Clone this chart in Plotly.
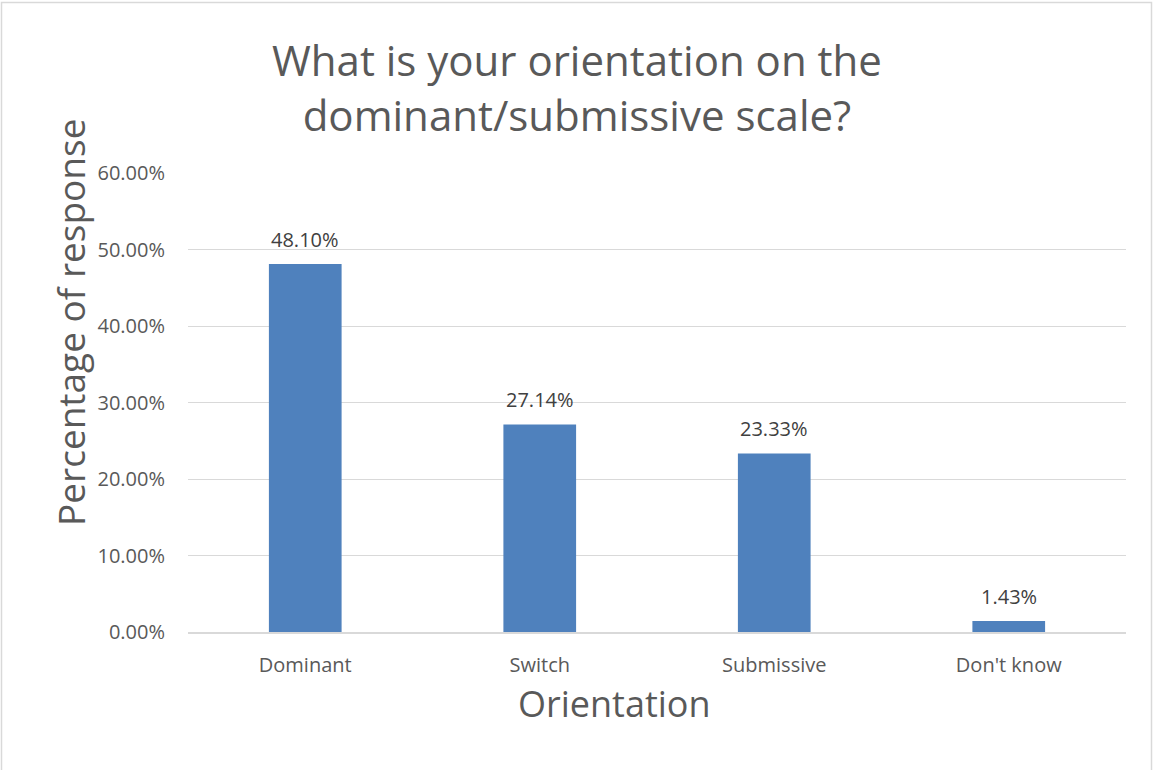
import plotly.graph_objects as go

categories = ["Dominant", "Switch", "Submissive", "Don't know"]
values = [0.4810, 0.2714, 0.2333, 0.0143]
tick_vals = [0, 0.1, 0.2, 0.3, 0.4, 0.5, 0.6]
tick_text = ["0.00%", "10.00%", "20.00%", "30.00%", "40.00%", "50.00%", "60.00%"]

W, H = 1153, 770
L, R, T, B = 188, 1126, 173, 632
pw, ph = R - L, B - T
def px(x): return (x - L) / pw
def py(y): return (B - y) / ph

FONT = "Open Sans"
fig = go.Figure(go.Bar(
    x=categories, y=values,
    marker=dict(color="#4F81BD", line=dict(width=0)),
    hoverinfo="x+y",
))
labels = [dict(x=c, y=v, xref="x", yref="y", text=f"{v*100:.2f}%", showarrow=False,
               xanchor="center", yanchor="middle", yshift=25,
               font=dict(family=FONT, size=20, color="#404040"))
          for c, v in zip(categories, values)]
fig.update_layout(
    width=W, height=H,
    margin=dict(l=L, r=W - R, t=T, b=H - B, pad=0),
    paper_bgcolor="white", plot_bgcolor="white",
    bargap=0.69, showlegend=False,
    font=dict(family=FONT, color="#595959"),
    xaxis=dict(showgrid=False, showline=True, linecolor="#D9D9D9", linewidth=1.5,
               ticks="", ticklabelstandoff=14, tickfont=dict(size=20, color="#595959")),
    yaxis=dict(range=[0, 0.6], tickvals=tick_vals, ticktext=tick_text,
               showgrid=True, gridcolor="#D9D9D9", gridwidth=1, zeroline=False,
               showline=False, ticks="", ticklabelstandoff=22,
               tickfont=dict(size=20, color="#595959")),
    shapes=[dict(type="rect", xref="paper", yref="paper",
                 x0=px(1.5), x1=px(1151.5), y0=py(772), y1=py(2.5),
                 line=dict(color="#D9D9D9", width=1.5), fillcolor="rgba(0,0,0,0)", layer="below")],
    annotations=labels + [
        dict(text="What is your orientation on the<br>dominant/submissive scale?",
             xref="paper", yref="paper", x=px(577), y=py(87), showarrow=False,
             xanchor="center", yanchor="middle",
             font=dict(family=FONT, size=42, color="#595959")),
        dict(text="Percentage of response", xref="paper", yref="paper",
             x=px(70), y=py(323), textangle=-90, showarrow=False,
             xanchor="center", yanchor="middle",
             font=dict(family=FONT, size=37, color="#595959")),
        dict(text="Orientation", xref="paper", yref="paper",
             x=px(614), y=py(703), showarrow=False,
             xanchor="center", yanchor="middle",
             font=dict(family=FONT, size=36, color="#595959")),
    ],
)
fig.write_html("out.html", config={"displayModeBar": False},
               post_script="document.body.style.margin='0';document.body.style.overflow='hidden';")
